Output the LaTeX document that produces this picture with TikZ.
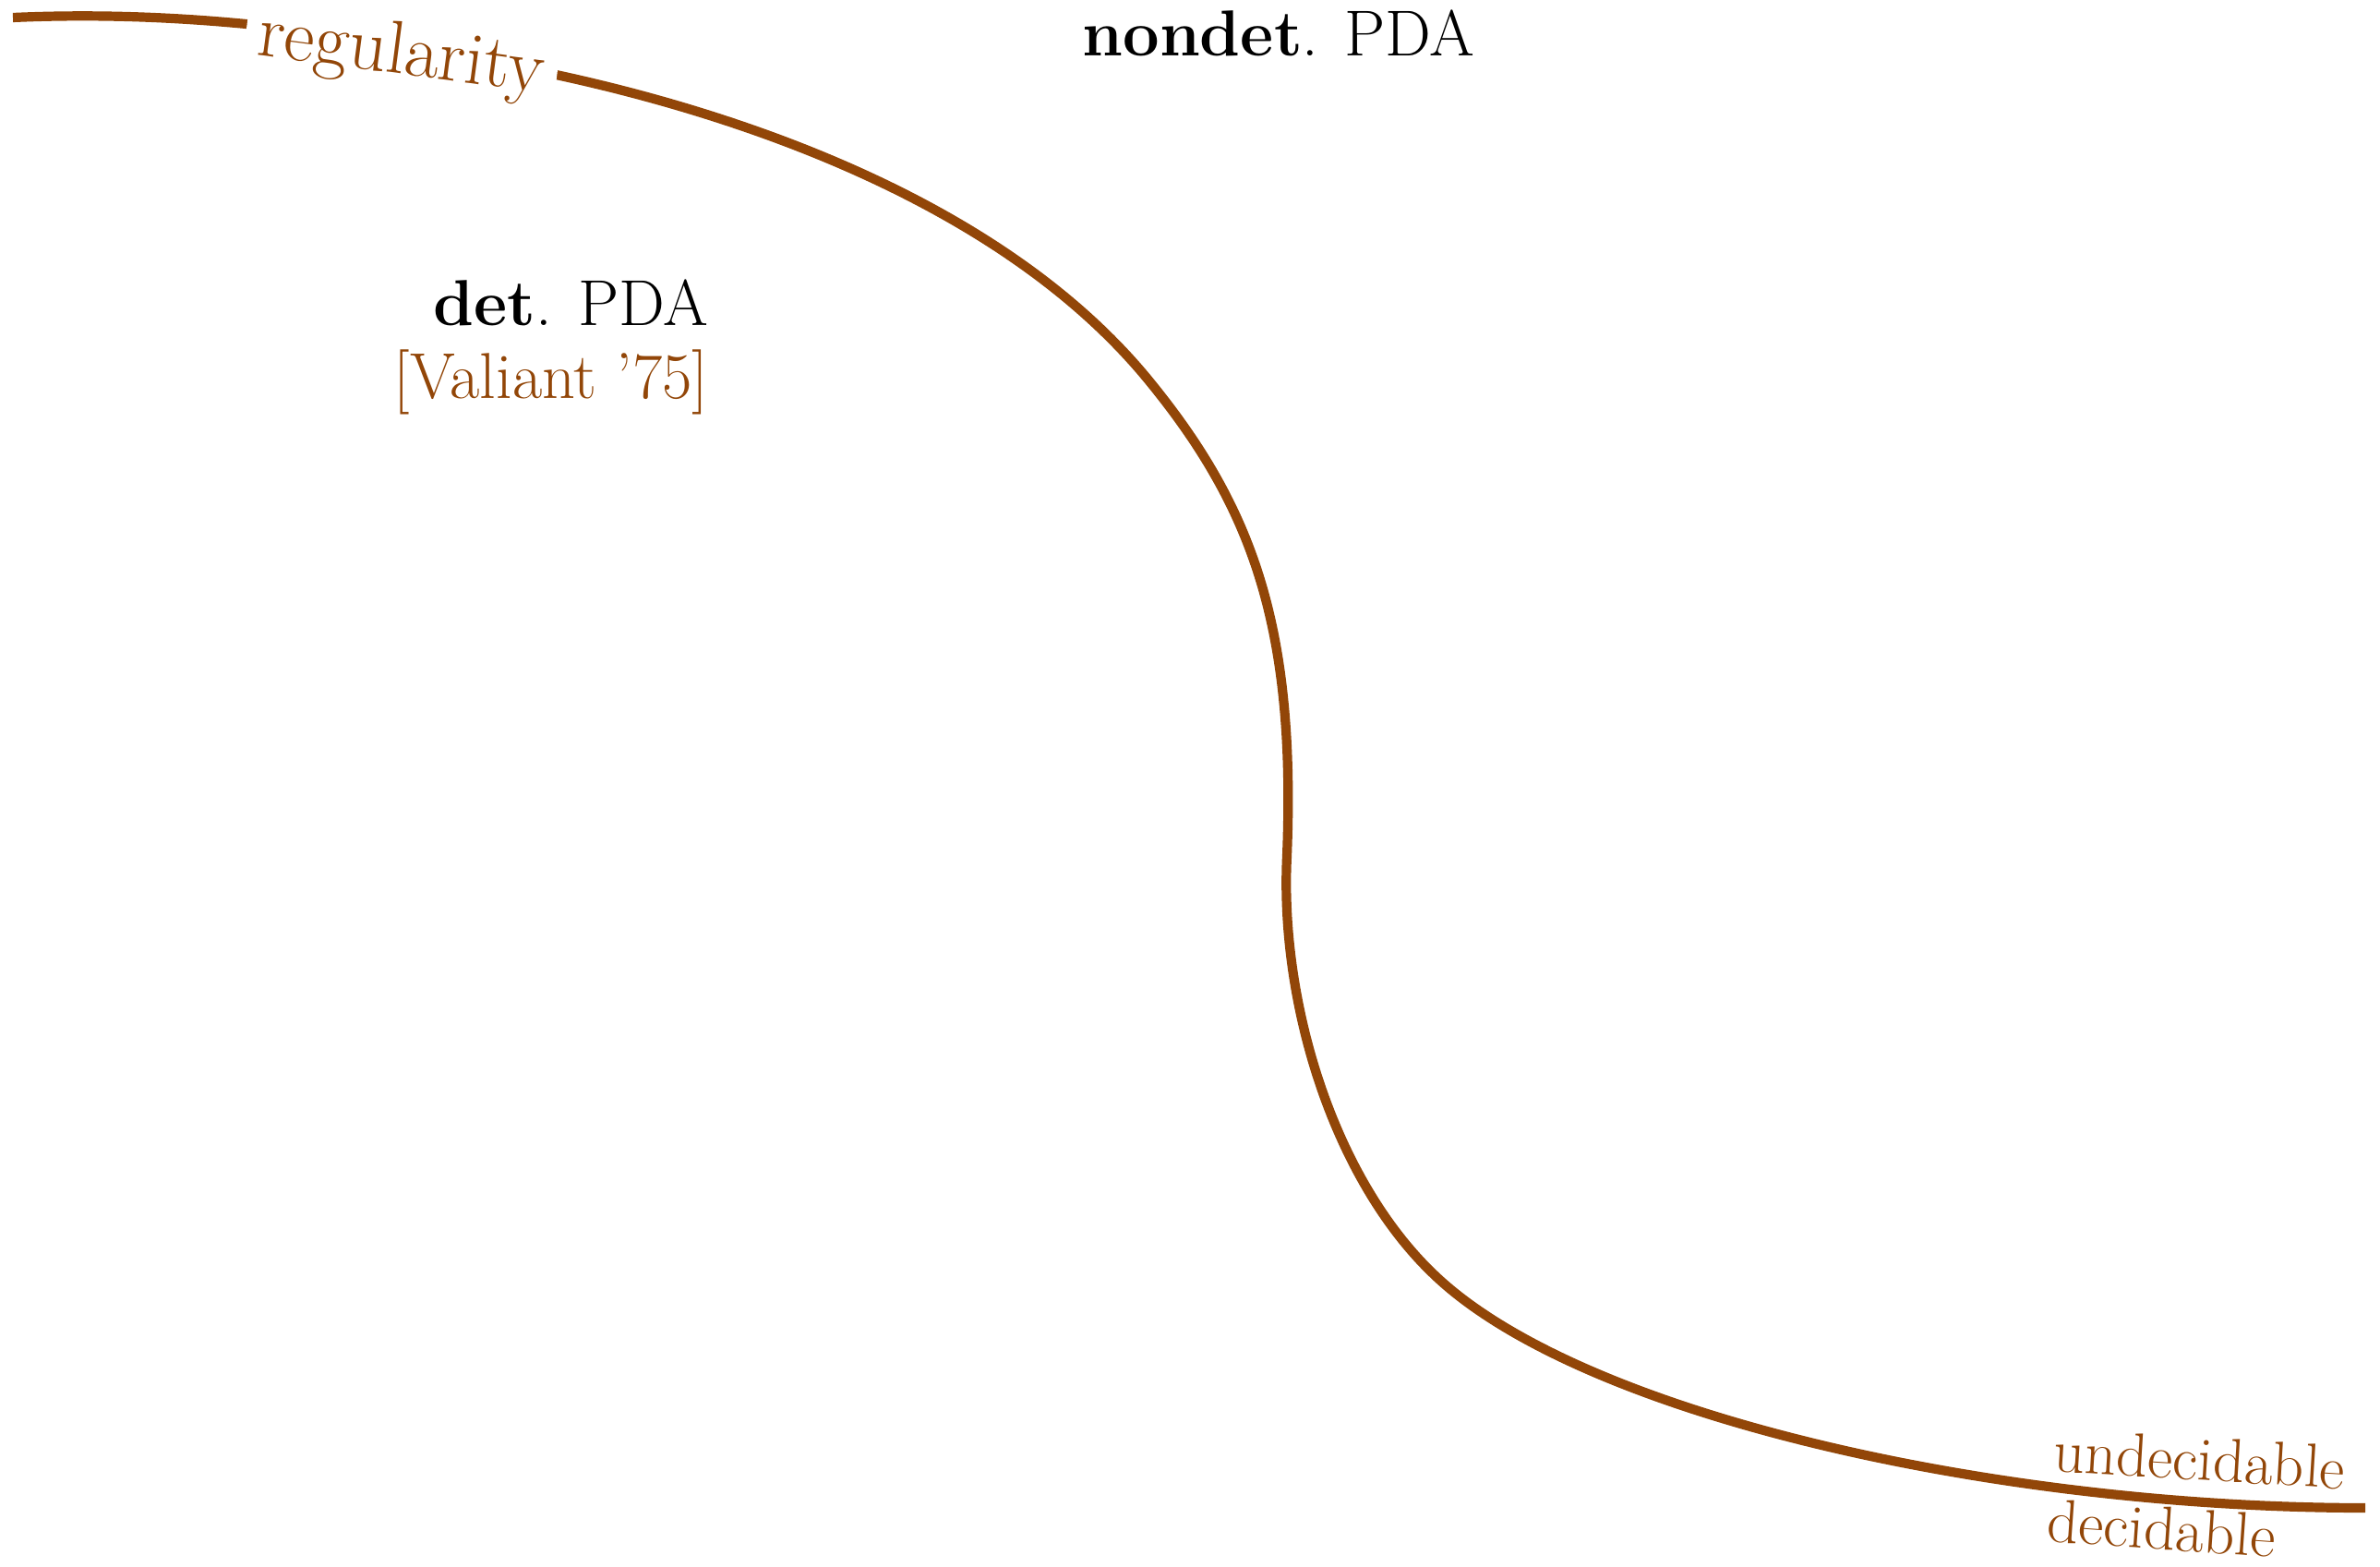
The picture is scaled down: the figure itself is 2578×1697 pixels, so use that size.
\documentclass[tikz,border=0pt]{standalone}
\usepackage{fontspec}
\definecolor{brn}{RGB}{146,70,8}
\begin{document}
\begin{tikzpicture}[x=0.01cm,y=-0.01cm,
  curve/.style={draw=brn, line width=2.9pt, line cap=butt, line join=miter},
  brl/.style={text=brn, inner sep=0pt, font=\fontsize{19}{23}\selectfont},
  blk/.style={text=black, inner sep=0pt, font=\fontsize{20}{24}\selectfont},
  regl/.style={text=brn, fill=white, inner xsep=4pt, inner ysep=0pt, font=\fontsize{23}{27}\selectfont}]
\useasboundingbox (0,0) rectangle (2578,1697);
\coordinate (c0) at (14,19);
\coordinate (c1) at (607,82);
\coordinate (c2) at (1241,408);
\coordinate (kink) at (1394,927);
\coordinate (c4) at (1553,1380);
\coordinate (cend) at (2562,1633);
\draw[curve] (c0) .. controls (214,10) and (407,38) .. (c1)
  .. controls (827,130) and (1091,228) .. (c2)
  .. controls (1356,547) and (1404,677) .. (kink)
  .. controls (1386,1087) and (1445,1277) .. (c4)
  .. controls (1711,1532) and (2162,1633) .. (cend);
\node[regl, rotate=-7.5, anchor=base] (reg) at (432,80) {regularity};
\node[blk, anchor=base] (nondet) at (1385,61) {\textbf{nondet}. PDA};
\node[blk, anchor=base east] (det) at (768,353) {\textbf{det}. PDA};
\node[brl, anchor=base east, font=\fontsize{20}{24}\selectfont] (val) at (768,432) {[Valiant '75]};
\node[brl, rotate=-3.5, anchor=base] (undec) at (2381,1603) {undecidable};
\node[brl, rotate=-4, anchor=base] (dec) at (2340,1678) {decidable};
\end{tikzpicture}
\end{document}
